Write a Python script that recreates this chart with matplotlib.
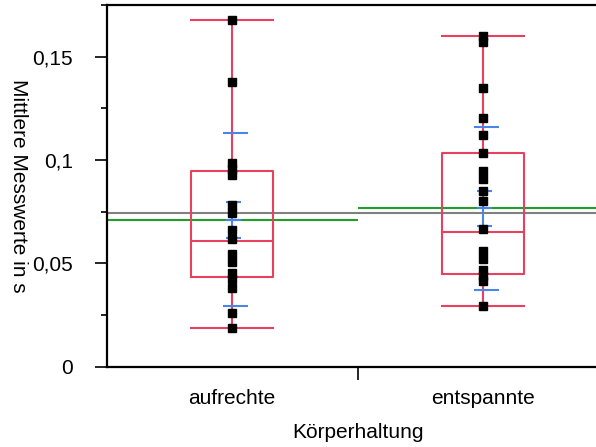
import matplotlib
matplotlib.use("Agg")
import matplotlib.pyplot as plt
import numpy as np

plt.rcParams["font.family"] = ["Liberation Sans", "DejaVu Sans"]

# Werte
gruppen = ["aufrechte", "entspannte"]
aufrechte = [0.1677, 0.1377, 0.0985, 0.0956, 0.0927, 0.0781, 0.0745, 0.0661,
             0.0620, 0.0547, 0.0505, 0.0452, 0.0423, 0.0383, 0.0260, 0.0188]
entspannte = [0.1599, 0.1572, 0.1347, 0.1201, 0.1121, 0.1032, 0.0947, 0.0909,
              0.0849, 0.0800, 0.0668, 0.0558, 0.0521, 0.0467, 0.0441, 0.0414,
              0.0295]

# Box-Kennwerte (min, q1, median, q3, max)
box_min = [0.0188, 0.0294]
box_q1 = [0.0432, 0.0448]
box_med = [0.0606, 0.0653]
box_q3 = [0.0946, 0.1033]
box_max = [0.1677, 0.1599]

mittel = [0.0711, 0.0770]
gesamt_mittel = 0.0742
sd_oben = [0.1133, 0.1162]
sd_unten = [0.0294, 0.0372]
se_oben = [0.0799, 0.0849]
se_unten = [0.0624, 0.0682]

y_ticks = [0, 0.05, 0.1, 0.15]
y_ticklabels = ["0", "0,05", "0,1", "0,15"]

RED = "#e8405f"
BLUE = "#4a86e8"
GREEN = "#1f9e2a"
GRAY = "#808080"

fig = plt.figure(figsize=(5.96, 4.47), dpi=100)
ax = fig.add_axes([106.5 / 596, (447 - 366.7) / 447, 502 / 596, 361.7 / 447])

pos = np.arange(len(gruppen))

# Mittelwertlinien
ax.hlines(gesamt_mittel, -0.5, 1.5, color=GRAY, lw=1.5, zorder=1)
for i, m in enumerate(mittel):
    ax.hlines(m, i - 0.5, i + 0.5, color=GREEN, lw=1.5, zorder=1)

# Boxplots
stats = []
for i in range(len(gruppen)):
    stats.append(dict(whislo=box_min[i], q1=box_q1[i], med=box_med[i],
                      q3=box_q3[i], whishi=box_max[i], fliers=[]))
lp = dict(color=RED, lw=1.5)
ax.bxp(stats, positions=pos, widths=0.327, capwidths=0.327, showfliers=False,
       boxprops=lp, medianprops=lp, whiskerprops=lp, capprops=lp,
       manage_ticks=False, zorder=2)

# Standardabweichung und Standardfehler
off = 0.015
for i in range(len(gruppen)):
    ax.hlines([sd_oben[i], sd_unten[i]], i + off - 0.05, i + off + 0.05,
              color=BLUE, lw=1.5, zorder=3)
    ax.hlines([se_oben[i], mittel[i], se_unten[i]], i + 0.006 - 0.028,
              i + 0.006 + 0.028, color=BLUE, lw=1.5, zorder=3)
    ax.vlines(i, se_unten[i], se_oben[i], color=BLUE, lw=1.5, zorder=3)

# Punkte
for i, werte in enumerate([aufrechte, entspannte]):
    ax.plot([pos[i]] * len(werte), werte, "s", color="black", ms=5.4,
            mec="black", zorder=4)

ax.set_xlim(-0.5, 1.5)
ax.set_ylim(0, 0.175)

ax.set_yticks(y_ticks)
ax.set_yticklabels(y_ticklabels, fontsize=15)
ax.set_yticks([0.025, 0.075, 0.125, 0.175], minor=True)
ax.tick_params(axis="y", which="major", length=9, width=1.2, pad=15)
ax.tick_params(axis="y", which="minor", length=4.5, width=1.2)

ax.set_xticks([0.5])
ax.set_xticklabels([""])
ax.set_xticks(pos, minor=True)
ax.set_xticklabels(gruppen, minor=True, fontsize=15)
ax.tick_params(axis="x", which="major", length=9, width=1.2)
ax.tick_params(axis="x", which="minor", length=0, pad=16)

for s in ["left", "bottom", "top"]:
    ax.spines[s].set_linewidth(1.6)
ax.spines["right"].set_visible(False)

ax.set_xlabel("Körperhaltung", fontsize=15, labelpad=11)
ax.set_ylabel("Mittlere Messwerte in s", fontsize=15, rotation=270,
              va="center")
ax.yaxis.set_label_coords(-0.176, 0.5)

fig.savefig("out.png", dpi=100)
